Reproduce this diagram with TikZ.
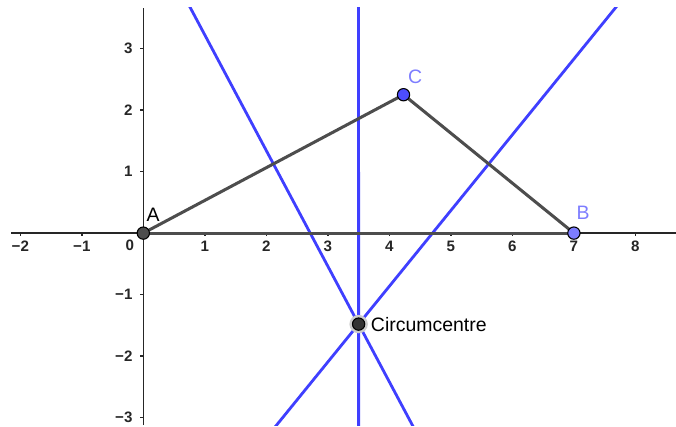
\documentclass[tikz,border=0pt]{standalone}
\usepackage{fontspec}
\setmainfont{Liberation Sans}
\usetikzlibrary{calc,positioning}

\definecolor{seggray}{HTML}{4D4D4D}
\definecolor{bisblue}{HTML}{3F3FFF}
\definecolor{ptblue}{HTML}{4D4DFF}
\definecolor{lightblue}{HTML}{7D7DFF}

\tikzset{
  geopoint/.style={circle, draw=black, line width=0.5pt, inner sep=0pt, minimum size=0.2cm},
  side/.style={seggray, line width=1.4pt},
  bisector/.style={bisblue, line width=1.3pt},
  axisline/.style={black!85, line width=0.7pt},
  ticklabel/.style={font=\fontsize{7}{8}\selectfont\bfseries, text=black!85, inner sep=0pt},
  ptlabel/.style={font=\fontsize{9}{10}\selectfont, inner sep=0pt},
}

\begin{document}
\begin{tikzpicture}
    % Graphics view window
    \useasboundingbox (-2.33,-3.15) rectangle (8.66,3.79);
    \def\ymin{-3.12}
    \def\ymax{3.66}

    % Axes
    \draw[axisline] (-2.15,0) -- (8.66,0);
    \draw[axisline] (0,\ymin) -- (0,\ymax);
    \foreach \x/\lab in {-2/−2, -1/−1, 1/1, 2/2, 3/3, 4/4, 5/5, 6/6, 7/7, 8/8} {
        \draw[axisline] (\x,0) -- (\x,-0.05);
        \node[ticklabel] (xt\x) at (\x,-0.22) {\lab};
    }
    \foreach \y/\lab in {-3/−3, -2/−2, -1/−1, 1/1, 2/2, 3/3} {
        \draw[axisline] (0,\y) -- (-0.05,\y);
        \node[ticklabel, anchor=east] (yt\y) at (-0.17,\y) {\lab};
    }
    \node[ticklabel] (zero) at (-0.22,-0.2) {0};

    % Triangle vertices
    \coordinate (A) at (0,0);
    \coordinate (B) at (7,0);
    \coordinate (C) at (4.23,2.25);

    % Perpendicular bisectors meet in the circumcentre
    \coordinate (Mab) at ($(A)!0.5!(B)$);
    \coordinate (Mac) at ($(A)!0.5!(C)$);
    \coordinate (Mbc) at ($(B)!0.5!(C)$);
    \coordinate (Nab) at ($(Mab)!1!90:(B)$);
    \coordinate (Nac) at ($(Mac)!1!90:(C)$);
    \coordinate (O) at (intersection of Mab--Nab and Mac--Nac);

    \begin{scope}
        \clip (-2.33,\ymin) rectangle (8.66,\ymax);
        \draw[bisector] ($(O)!-8!(Mab)$) -- ($(O)!8!(Mab)$);
        \draw[bisector] ($(O)!-8!(Mac)$) -- ($(O)!8!(Mac)$);
        \draw[bisector] ($(O)!-8!(Mbc)$) -- ($(O)!8!(Mbc)$);
    \end{scope}

    % Sides
    \draw[side] (A) -- (B);
    \draw[side] (A) -- (C) -- (B);

    % Points
    \fill[black!20] (O) circle (0.15);
    \node[geopoint, fill=seggray] (ptA) at (A) {};
    \node[geopoint, fill=lightblue] (ptB) at (B) {};
    \node[geopoint, fill=ptblue] (ptC) at (C) {};
    \node[geopoint, fill=black!80] (ptO) at (O) {};

    % Labels
    \node[ptlabel] (labA) at ($(A)+(0.16,0.30)$) {A};
    \node[ptlabel, lightblue] (labB) at ($(B)+(0.15,0.33)$) {B};
    \node[ptlabel, lightblue] (labC) at ($(C)+(0.19,0.29)$) {C};
    \node[ptlabel, right=0.085cm of ptO] (labO) {Circumcentre};
\end{tikzpicture}
\end{document}
